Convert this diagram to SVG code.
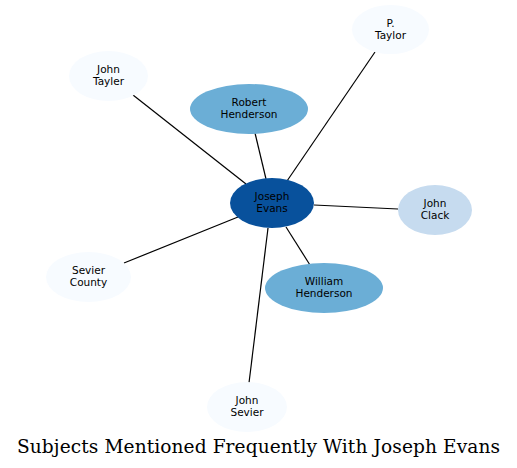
<svg xmlns="http://www.w3.org/2000/svg" width="517" height="468" viewBox="0 0 517 468">
<style>
.e{stroke:#000;stroke-width:1.2;fill:none}
.t{font-family:"DejaVu Sans",sans-serif;font-size:10.5px;text-anchor:middle;fill:#000}
.d{fill:#08519c}.m{fill:#6baed6}.l{fill:#c6dbef}.v{fill:#f7fbff}
.title{font-family:"DejaVu Serif",serif;font-size:18.6px;text-anchor:middle;fill:#000}
</style>
<rect width="517" height="468" fill="#fff"/>
<g id="connectors">
<line class="e" x1="266" y1="179" x2="255" y2="133"/>
<line class="e" x1="287" y1="181" x2="375" y2="52"/>
<line class="e" x1="314" y1="205" x2="398" y2="209"/>
<line class="e" x1="246" y1="184" x2="133" y2="95"/>
<line class="e" x1="238" y1="217" x2="124" y2="263"/>
<line class="e" x1="286" y1="227" x2="310" y2="265"/>
<line class="e" x1="268" y1="228" x2="249" y2="383"/>
</g>
<g id="joseph-evans"><ellipse class="d" cx="272" cy="203" rx="42" ry="25"/><text class="t" x="272" y="200">Joseph</text><text class="t" x="272" y="212">Evans</text></g>
<g id="robert-henderson"><ellipse class="m" cx="249" cy="109" rx="59" ry="25"/><text class="t" x="249" y="106">Robert</text><text class="t" x="249" y="118">Henderson</text></g>
<g id="p-taylor"><ellipse class="v" cx="390.5" cy="29.5" rx="38.5" ry="24.5"/><text class="t" x="390.5" y="26.5">P.</text><text class="t" x="390.5" y="38.5">Taylor</text></g>
<g id="john-clack"><ellipse class="l" cx="435" cy="210" rx="37" ry="25"/><text class="t" x="435" y="207">John</text><text class="t" x="435" y="219">Clack</text></g>
<g id="john-tayler"><ellipse class="v" cx="108.5" cy="76" rx="39.5" ry="25"/><text class="t" x="108.5" y="73">John</text><text class="t" x="108.5" y="85">Tayler</text></g>
<g id="sevier-county"><ellipse class="v" cx="88.5" cy="277" rx="42.5" ry="25"/><text class="t" x="88.5" y="274">Sevier</text><text class="t" x="88.5" y="286">County</text></g>
<g id="william-henderson"><ellipse class="m" cx="324" cy="288" rx="59" ry="25"/><text class="t" x="324" y="285">William</text><text class="t" x="324" y="297">Henderson</text></g>
<g id="john-sevier"><ellipse class="v" cx="247" cy="407" rx="40" ry="25"/><text class="t" x="247" y="404">John</text><text class="t" x="247" y="416">Sevier</text></g>
<text class="title" x="258.5" y="452.5" textLength="483">Subjects Mentioned Frequently With Joseph Evans</text>
</svg>
